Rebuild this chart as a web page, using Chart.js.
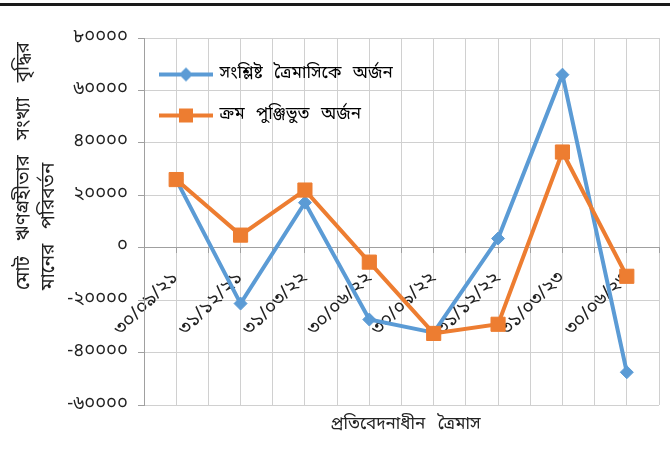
<!DOCTYPE html>
<html>
<head>
<meta charset="utf-8">
<script src="https://cdn.jsdelivr.net/npm/chart.js@4.4.1/dist/chart.umd.min.js"></script>
<style>
  html, body { margin: 0; padding: 0; background: #fff; }
  #wrap { position: relative; width: 670px; height: 463px; }
  #topline { position: absolute; left: 0; top: 3px; width: 670px; height: 3px; background: #1a1a1a; }
  canvas { position: absolute; left: 0; top: 0; }
</style>
</head>
<body>
<div id="wrap">
  <canvas id="c" width="670" height="463"></canvas>
  <div id="topline"></div>
</div>
<script>
const categories = ['৩০/০৯/২১','৩১/১২/২১','৩১/০৩/২২','৩০/০৬/২২','৩০/০৯/২২','৩১/১২/২২','৩১/০৩/২৩','৩০/০৬/২৩'];
const quarterGain = [26000, -21300, 17200, -27400, -32400, 3500, 66000, -47500];
const cumulativeGain = [26000, 4800, 22000, -5500, -32700, -29200, 36500, -10900];
const seriesNames = ['সংশ্লিষ্ট ত্রৈমাসিকে অর্জন', 'ক্রম পুঞ্জিভুত অর্জন'];
const yTitleLines = ['মোট ঋণগ্রহীতার সংখ্যা বৃদ্ধির', 'মানের পরিবর্তন'];
const xTitle = 'প্রতিবেদনাধীন ত্রৈমাস';
const yTicks = { min: -60000, max: 80000, step: 20000 };

const BN = '০১২৩৪৫৬৭৮৯';
const toBn = s => String(s).replace(/[0-9]/g, d => BN[+d]);
const FONT = "'Noto Sans Bengali', 'Noto Sans', sans-serif";

const BLUE = '#5B9BD5';
const ORANGE = '#ED7D31';

function legendIcon(color, style) {
  const cv = document.createElement('canvas');
  cv.width = 56; cv.height = 16;
  const g = cv.getContext('2d');
  g.strokeStyle = color; g.lineWidth = 4;
  g.beginPath(); g.moveTo(1, 8); g.lineTo(55, 8); g.stroke();
  g.fillStyle = color;
  if (style === 'diamond') {
    g.beginPath(); g.moveTo(28, 1); g.lineTo(35, 8); g.lineTo(28, 15); g.lineTo(21, 8); g.closePath(); g.fill();
  } else {
    g.fillRect(21, 1, 14, 14);
  }
  return cv;
}
const icons = [legendIcon(BLUE, 'diamond'), legendIcon(ORANGE, 'square')];

const spacingPlugin = {
  id: 'wordspacing',
  beforeUpdate(chart) { chart.ctx.wordSpacing = '7px'; },
  afterLayout(chart) {
    const L = chart.legend;
    if (!L) return;
    const dx = -7, dy = 42, extra = 40;
    L.left += dx; L.right += dx + extra; L.width += extra;
    L.top += dy; L.bottom += dy;
  },
  beforeDraw(chart) { chart.ctx.wordSpacing = '7px'; }
};

const titlesPlugin = {
  id: 'titles',
  afterDraw(chart) {
    const { ctx, chartArea } = chart;
    ctx.save();
    ctx.fillStyle = '#222';
    ctx.wordSpacing = '8px';
    ctx.font = "17px " + FONT;
    ctx.textAlign = 'center';
    ctx.textBaseline = 'middle';
    ctx.fillText(xTitle, (chartArea.left + chartArea.right) / 2 + 4, chartArea.bottom + 21);
    ctx.font = "19px " + FONT;
    ctx.wordSpacing = '10px';
    yTitleLines.forEach((line, i) => {
      ctx.save();
      ctx.translate(25 + i * 25, 290);
      ctx.rotate(-Math.PI / 2);
      ctx.textAlign = 'left';
      ctx.fillText(line, 0, 0);
      ctx.restore();
    });
    ctx.restore();
  }
};

new Chart(document.getElementById('c'), {
  type: 'line',
  data: {
    datasets: [
      {
        label: seriesNames[0],
        data: quarterGain.map((v, i) => ({ x: i, y: v })),
        borderColor: BLUE, backgroundColor: BLUE,
        borderWidth: 4, pointStyle: 'rectRot', pointRadius: 6.5, pointHoverRadius: 6.5,
        pointBorderWidth: 1, tension: 0, order: 1
      },
      {
        label: seriesNames[1],
        data: cumulativeGain.map((v, i) => ({ x: i, y: v })),
        borderColor: ORANGE, backgroundColor: ORANGE,
        borderWidth: 4, pointStyle: 'rect', pointRadius: 10, pointHoverRadius: 10,
        pointBorderWidth: 1, tension: 0, order: 0
      }
    ]
  },
  options: {
    responsive: false,
    animation: false,
    layout: { padding: { left: 0, right: 9, top: 38, bottom: 58 } },
    plugins: {
      tooltip: { enabled: false },
      legend: {
        position: 'chartArea',
        align: 'start',
        labels: {
          usePointStyle: true,
          pointStyleWidth: 50,
          boxHeight: 16,
          padding: 24,
          color: '#222',
          font: { family: FONT, size: 17 },
          sort: (a, b) => a.datasetIndex - b.datasetIndex,
          generateLabels: chart => chart.data.datasets.map((ds, i) => ({
            text: ds.label, datasetIndex: i, pointStyle: icons[i],
            fillStyle: ds.borderColor, strokeStyle: ds.borderColor, lineWidth: 0, hidden: false
          }))
        }
      }
    },
    scales: {
      x: {
        type: 'linear',
        position: { y: 0 },
        min: -0.5, max: categories.length - 0.5,
        afterFit: s => { s.height = 0; s.paddingLeft = 0; s.paddingRight = 0; },
        afterBuildTicks: s => {
          const t = [];
          for (let v = -0.5; v <= categories.length - 0.5 + 1e-9; v += 0.5) t.push({ value: v });
          s.ticks = t;
        },
        ticks: {
          autoSkip: false,
          minRotation: 45, maxRotation: 45,
          padding: 15,
          color: '#222',
          font: { family: FONT, size: 19 },
          callback: v => Number.isInteger(v) ? categories[v] : ''
        },
        grid: { color: '#d0d0d0', lineWidth: 1, tickLength: 5, tickColor: '#a0a0a0' },
        border: { color: '#a0a0a0', width: 1 }
      },
      y: {
        min: yTicks.min, max: yTicks.max,
        afterFit: s => { s.width = 144; },
        ticks: {
          stepSize: yTicks.step,
          padding: 10,
          color: '#222',
          font: { family: FONT, size: 18.5 },
          callback: v => toBn(v)
        },
        grid: { color: '#d0d0d0', lineWidth: 1, tickLength: 6, tickColor: '#a0a0a0' },
        border: { color: '#a0a0a0', width: 1 }
      }
    }
  },
  plugins: [spacingPlugin, titlesPlugin]
});
</script>
</body>
</html>
